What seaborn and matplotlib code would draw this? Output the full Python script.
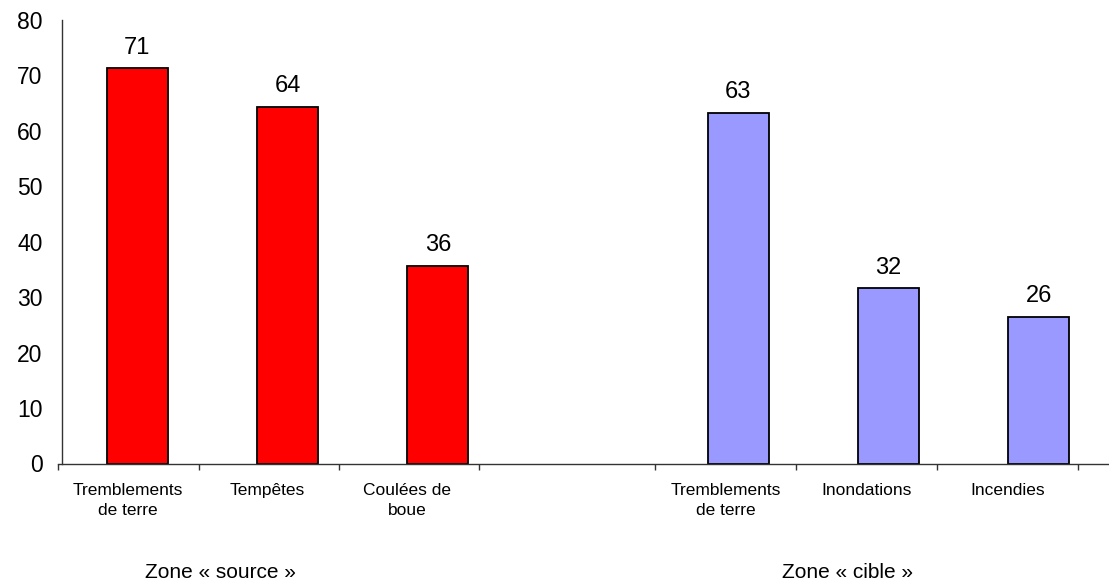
import pandas as pd
import matplotlib.pyplot as plt
import seaborn as sns

# data
slots = ['src_1', 'src_2', 'src_3', 'gap', 'cib_1', 'cib_2', 'cib_3']
bar_slots = ['src_1', 'src_2', 'src_3', 'cib_1', 'cib_2', 'cib_3']
values = [71.3, 64.3, 35.7, 63.2, 31.6, 26.4]
groups = ['source', 'source', 'source', 'cible', 'cible', 'cible']
cat_labels = ['Tremblements\nde terre', 'Tempêtes', 'Coulées de\nboue',
              'Tremblements\nde terre', 'Inondations', 'Incendies']
group_titles = ['Zone « source »', 'Zone « cible »']
colors = {'source': '#FF0000', 'cible': '#9999FF'}

df = pd.DataFrame({'slot': bar_slots, 'value': values, 'group': groups})

sns.set_style('white')
plt.rcParams['font.family'] = ['Liberation Sans', 'DejaVu Sans']

fig = plt.figure(figsize=(11.09, 5.86), dpi=100)
ax = fig.add_axes([58 / 1109, 1 - 463.5 / 586, 1 - 58 / 1109, (463.5 - 20) / 586])

sns.barplot(data=df, x='slot', y='value', hue='group', order=slots,
            palette=colors, saturation=1, dodge=False, width=0.406,
            edgecolor='black', linewidth=1.3, legend=False, ax=ax)

for c in ax.containers:
    ax.bar_label(c, fmt='%.0f', padding=7, fontsize=17, color='black')

ax.set_ylim(0, 80)
ax.set_xlim(-0.528, 6.466)
ax.set_yticks(range(0, 81, 10))
ax.tick_params(axis='y', labelsize=16.5, length=6, width=1, pad=8, colors='black')

# boundary ticks (as in the original chart) and category labels
tick_pos = [-0.528, 0.409, 1.341, 2.273, 3.444, 4.383, 5.321, 6.26]
label_pos = [-0.063, 0.865, 1.797, 3.913, 4.855, 5.794]
ax.set_xticks(tick_pos)
ax.set_xticklabels([''] * len(tick_pos))
ax.set_xticks(label_pos, minor=True)
ax.set_xticklabels(cat_labels, minor=True, fontsize=12.5, linespacing=1.45,
                   color='black')
ax.tick_params(axis='x', which='major', length=4, width=1, direction='out',
               bottom=True, colors='#333333')
ax.tick_params(axis='x', which='minor', length=0, pad=14)
ax.set_xlabel('')
ax.set_ylabel('')

for s in ['top', 'right']:
    ax.spines[s].set_visible(False)
ax.spines['left'].set_position(('data', -0.502))
for s in ['left', 'bottom']:
    ax.spines[s].set_color('#333333')
    ax.spines[s].set_linewidth(1)

fig.text(220 / 1109, 1 - 573 / 586, group_titles[0], ha='center', va='center',
         fontsize=15, color='black')
fig.text(848 / 1109, 1 - 573 / 586, group_titles[1], ha='center', va='center',
         fontsize=15, color='black')

fig.savefig('out.png', dpi=100)
